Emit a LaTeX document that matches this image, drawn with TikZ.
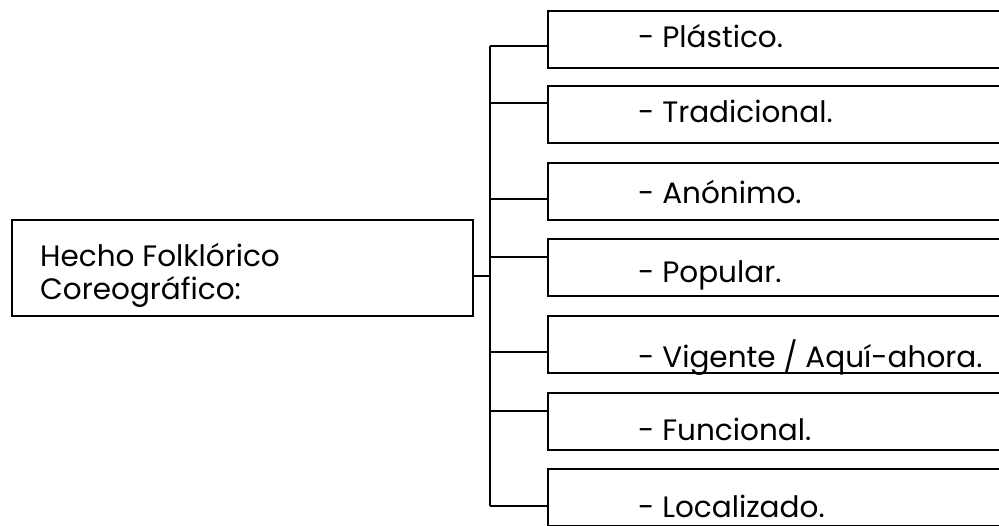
\documentclass[tikz,border=0pt]{standalone}
\usepackage{fontspec}
\setmainfont{Poppins}
\begin{document}
\begin{tikzpicture}[x=1pt,y=-1pt,
  box/.style={draw,line width=2.4pt,rectangle,inner sep=0pt,anchor=north west},
  lbl/.style={anchor=base west,inner sep=0pt,font=\fontsize{29.5}{35}\selectfont},
  conn/.style={line width=2.4pt}]
\useasboundingbox (0,0) rectangle (999,525);
% main box
\node[box,minimum width=461pt,minimum height=96pt] (main) at (11,219) {};
\node[lbl] (mt1) at (40,266) {Hecho Folklórico};
\node[lbl] (mt2) at (40,299) {Coreográfico:};
% item boxes
\foreach \i/\top in {1/10,2/85,3/162,4/238,5/315,6/392,7/468}{
  \node[box,minimum width=480pt,minimum height=57pt] (b\i) at (547,\top) {};
}
\node[lbl] (t1) at (638,47) {- Plástico.};
\node[lbl] (t2) at (638,122) {- Tradicional.};
\node[lbl] (t3) at (638,203) {- Anónimo.};
\node[lbl] (t4) at (638,282) {- Popular.};
\node[lbl] (t5) at (638,367) {- Vigente / Aquí-ahora.};
\node[lbl] (t6) at (638,440) {- Funcional.};
\node[lbl] (t7) at (638,517) {- Localizado.};
% connectors
\coordinate (j0) at (490,276);
\coordinate (top) at (490,46);
\coordinate (bot) at (490,506);
\draw[conn] (main.east |- j0) -- (j0);
\draw[conn] (top) -- (bot);
\foreach \i/\y in {1/46,2/103,3/199,4/257,5/352,6/411,7/506}{
  \coordinate (c\i) at (490,\y);
  \draw[conn] (c\i) -- (b\i.west |- c\i);
}
\end{tikzpicture}
\end{document}
